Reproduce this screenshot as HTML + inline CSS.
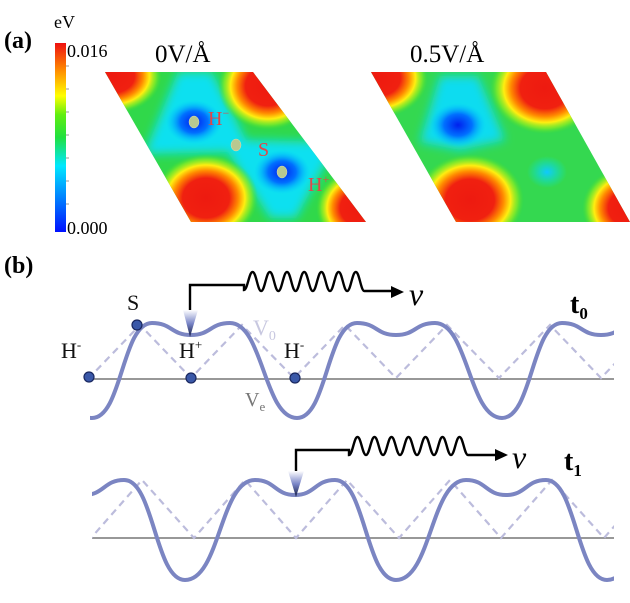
<!DOCTYPE html>
<html><head><meta charset="utf-8"><style>
html,body{margin:0;padding:0;background:#fff;}
svg{display:block;}
text{font-family:"Liberation Serif",serif;}
</style></head><body>
<svg width="630" height="603" viewBox="0 0 630 603" xmlns="http://www.w3.org/2000/svg">
<defs>
<linearGradient id="jet" x1="0" y1="1" x2="0" y2="0">
<stop offset="0" stop-color="#0010ff"/><stop offset="0.18" stop-color="#0080ff"/>
<stop offset="0.35" stop-color="#00e8ff"/><stop offset="0.5" stop-color="#20e040"/>
<stop offset="0.62" stop-color="#60ee10"/><stop offset="0.72" stop-color="#ffff00"/>
<stop offset="0.85" stop-color="#ff9000"/><stop offset="1" stop-color="#ee1010"/>
</linearGradient>
<radialGradient id="red"><stop offset="0" stop-color="#ee1a10"/><stop offset="0.45" stop-color="#f02010"/>
<stop offset="0.62" stop-color="#ff8a00"/><stop offset="0.75" stop-color="#ffee10"/><stop offset="0.88" stop-color="#90ee20" stop-opacity="0.7"/><stop offset="1" stop-color="#40dd30" stop-opacity="0"/></radialGradient>
<radialGradient id="blue"><stop offset="0" stop-color="#0020ee"/><stop offset="0.5" stop-color="#0070ff"/><stop offset="1" stop-color="#00c8ff" stop-opacity="0"/></radialGradient>
<radialGradient id="cy"><stop offset="0" stop-color="#10c8ff"/><stop offset="1" stop-color="#00e8e0" stop-opacity="0"/></radialGradient>
<filter id="bl" x="-20%" y="-20%" width="140%" height="140%"><feGaussianBlur stdDeviation="5"/></filter>
<clipPath id="c1"><polygon points="105,72 253,72 366,222 191,222"/></clipPath>
<clipPath id="c2"><polygon points="371,72 546,72 630,222 456,222"/></clipPath>
<clipPath id="cw0"><rect x="90" y="260" width="524" height="200"/></clipPath>
<clipPath id="cw1"><rect x="92" y="460" width="522" height="140"/></clipPath>
<linearGradient id="tri" x1="0" y1="0" x2="0" y2="1"><stop offset="0" stop-color="#ffffff"/><stop offset="0.5" stop-color="#7a86c8"/><stop offset="1" stop-color="#101840"/></linearGradient>
</defs>

<!-- (a) -->
<text x="4" y="48" font-size="24" font-weight="bold">(a)</text>
<text x="54" y="28" font-size="18">eV</text>
<rect x="55" y="43" width="11" height="189" fill="url(#jet)"/>
<g stroke="#999" stroke-width="1">
<line x1="66" y1="66" x2="69" y2="66"/><line x1="66" y1="89" x2="69" y2="89"/><line x1="66" y1="112" x2="69" y2="112"/><line x1="66" y1="135" x2="69" y2="135"/><line x1="66" y1="158" x2="69" y2="158"/><line x1="66" y1="181" x2="69" y2="181"/><line x1="66" y1="204" x2="69" y2="204"/>
</g>
<text x="67" y="57" font-size="18">0.016</text>
<text x="67" y="234" font-size="18">0.000</text>
<text x="155" y="62" font-size="25">0V/Å</text>
<text x="410" y="62" font-size="25">0.5V/Å</text>

<g clip-path="url(#c1)">
<rect x="100" y="70" width="270" height="155" fill="#30d84a"/>
<g filter="url(#bl)">
<polygon points="178,72 212,72 246,140 330,142 330,155 296,218 270,218 228,152 145,154 150,140" fill="#10e0f0"/>
</g>
<ellipse cx="194" cy="122" rx="28" ry="22" fill="url(#blue)"/>
<ellipse cx="282" cy="172" rx="28" ry="22" fill="url(#blue)"/>
<ellipse cx="112" cy="76" rx="50" ry="38" fill="url(#red)"/>
<ellipse cx="268" cy="86" rx="50" ry="44" fill="url(#red)"/>
<ellipse cx="206" cy="198" rx="52" ry="44" fill="url(#red)"/>
<ellipse cx="360" cy="208" rx="44" ry="40" fill="url(#red)"/>
</g>
<g fill="#b8c890" stroke="#d8e0b0" stroke-width="0.5">
<ellipse cx="194" cy="122" rx="5" ry="6"/><ellipse cx="236" cy="145" rx="5" ry="6"/><ellipse cx="282" cy="172" rx="5" ry="6"/>
</g>
<g fill="#e04848" font-size="20">
<text x="208" y="125">H<tspan font-size="12" dy="-8">−</tspan></text>
<text x="258" y="156">S</text>
<text x="308" y="191">H<tspan font-size="12" dy="-8">+</tspan></text>
</g>

<g clip-path="url(#c2)">
<rect x="365" y="70" width="270" height="155" fill="#34d850"/>
<g filter="url(#bl)">
<polygon points="440,76 478,76 505,140 460,150 420,142" fill="#10dcf0"/>
</g>
<ellipse cx="458" cy="125" rx="28" ry="22" fill="url(#blue)"/>
<ellipse cx="547" cy="172" rx="20" ry="16" fill="url(#cy)"/>
<ellipse cx="378" cy="78" rx="50" ry="40" fill="url(#red)"/>
<ellipse cx="545" cy="88" rx="55" ry="46" fill="url(#red)"/>
<ellipse cx="470" cy="200" rx="54" ry="46" fill="url(#red)"/>
<ellipse cx="630" cy="208" rx="48" ry="42" fill="url(#red)"/>
</g>

<!-- (b) -->
<text x="4" y="273" font-size="24" font-weight="bold">(b)</text>

<line x1="90" y1="379" x2="614" y2="379" stroke="#777" stroke-width="1.5"/>
<line x1="92" y1="538" x2="614" y2="538" stroke="#777" stroke-width="1.5"/>

<g clip-path="url(#cw0)">
<polyline points="38,325 89,378 140,325 191,378 242,325 294,378 345,325 396,378 447,325 499,378 550,325 601,378 652,325" fill="none" stroke="#bcbcdc" stroke-width="2.2" stroke-dasharray="7 5"/>
<path d="M-113,418 c30,0 30,-95 60,-95 c20,0 19,12 39,12 c20,0 19,-12 39,-12 c33,0 34,95 67,95 c30,0 30,-95 60,-95 c20,0 19,12 39,12 c20,0 19,-12 39,-12 c33,0 34,95 67,95 c30,0 30,-95 60,-95 c20,0 19,12 39,12 c20,0 19,-12 39,-12 c33,0 34,95 67,95 c30,0 30,-95 60,-95 c20,0 19,12 39,12 c20,0 19,-12 39,-12 c33,0 34,95 67,95" fill="none" stroke="#7b85c2" stroke-width="4"/>
</g>
<g clip-path="url(#cw1)">
<polyline points="40,480 91,538 142,480 194,538 245,480 296,538 347,480 399,538 450,480 501,538 552,480 604,538 655,480" fill="none" stroke="#bcbcdc" stroke-width="2.2" stroke-dasharray="7 5"/>
<path d="M-26,580 c35,0 35,-100 70,-100 c20,0 20,15 40,15 c20,0 20,-15 40,-15 c30,0 31,100 61,100 c35,0 35,-100 70,-100 c20,0 20,15 40,15 c20,0 20,-15 40,-15 c30,0 31,100 61,100 c35,0 35,-100 70,-100 c20,0 20,15 40,15 c20,0 20,-15 40,-15 c30,0 31,100 61,100 c35,0 35,-100 70,-100 c20,0 20,15 40,15 c20,0 20,-15 40,-15 c30,0 31,100 61,100" fill="none" stroke="#7b85c2" stroke-width="4"/>
</g>

<g fill="#3a58a8" stroke="#1a2860" stroke-width="1.2">
<circle cx="89" cy="377" r="5"/><circle cx="137" cy="325" r="5"/><circle cx="191" cy="378" r="5"/><circle cx="295" cy="378" r="5"/>
</g>

<g font-size="22" fill="#111">
<text x="127" y="310">S</text>
<text x="61" y="358">H<tspan font-size="13" dy="-9">-</tspan></text>
<text x="179" y="358">H<tspan font-size="13" dy="-9">+</tspan></text>
<text x="284" y="358">H<tspan font-size="13" dy="-9">-</tspan></text>
</g>
<text x="253" y="335" font-size="22" fill="#c8c8e0">V<tspan font-size="14" dy="5">0</tspan></text>
<text x="245" y="406" font-size="20" fill="#777">V<tspan font-size="13" dy="5">e</tspan></text>
<text x="570" y="313" font-size="28" font-weight="bold">t<tspan font-size="17" dy="6">0</tspan></text>
<text x="564" y="470" font-size="28" font-weight="bold">t<tspan font-size="17" dy="6">1</tspan></text>

<!-- arrows t0 -->
<polygon points="183,310 198,310 190,337" fill="url(#tri)"/>
<path d="M190,310 V285 H244 L244,290 c3.5,0 5,-18 8.6,-18 c3.6,0 5,19 8.6,19 c3.5,0 5,-19 8.6,-19 c3.6,0 5,19 8.6,19 c3.5,0 5,-19 8.6,-19 c3.6,0 5,19 8.6,19 c3.5,0 5,-19 8.6,-19 c3.6,0 5,19 8.6,19 c3.5,0 5,-19 8.6,-19 c3.6,0 5,19 8.6,19 c3.5,0 5,-19 8.6,-19 c3.6,0 5,19 8.6,19 c3.5,0 5,-19 8.6,-19 c3.6,0 5,19 8.6,19 H398" fill="none" stroke="#000" stroke-width="2.4"/>
<polygon points="391,286 404,292 391,298" fill="#000"/>
<text x="409" y="305" font-size="32" font-style="italic">v</text>

<!-- arrows t1 -->
<polygon points="288,471 304,471 296,497" fill="url(#tri)"/>
<path d="M296,471 V450 H349 L349,455 c3.5,0 5,-18 8.5,-18 c3.5,0 5,18 8.5,18 c3.5,0 5,-18 8.5,-18 c3.5,0 5,18 8.5,18 c3.5,0 5,-18 8.5,-18 c3.5,0 5,18 8.5,18 c3.5,0 5,-18 8.5,-18 c3.5,0 5,18 8.5,18 c3.5,0 5,-18 8.5,-18 c3.5,0 5,18 8.5,18 c3.5,0 5,-18 8.5,-18 c3.5,0 5,18 8.5,18 c3.5,0 5,-18 8.5,-18 c3.5,0 5,18 8.5,18 H502" fill="none" stroke="#000" stroke-width="2.4"/>
<polygon points="495,449 508,455 495,461" fill="#000"/>
<text x="512" y="468" font-size="32" font-style="italic">v</text>
</svg>
</body></html>
